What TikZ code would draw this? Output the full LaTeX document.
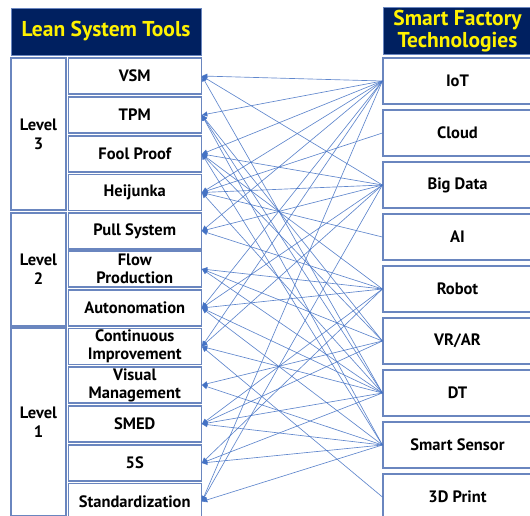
\documentclass[tikz,border=0pt]{standalone}
\usepackage{fontspec}
\setmainfont{PT Sans}
\usetikzlibrary{arrows.meta}
\definecolor{navy}{HTML}{002060}
\definecolor{boxline}{HTML}{6A86BF}
\definecolor{linkblue}{HTML}{4472C4}

\begin{document}
\begin{tikzpicture}[x=1pt,y=-1pt,
  head/.style={fill=navy,draw=boxline,text=yellow,font=\fontsize{21.5}{22.5}\selectfont\bfseries,align=center,inner sep=0pt},
  level/.style={draw=boxline,line width=1.2pt,minimum width=55pt,align=center,font=\fontsize{16.5}{19}\selectfont\bfseries,inner sep=0pt},
  tool/.style={draw=boxline,line width=1.2pt,minimum width=133pt,minimum height=36pt,align=center,font=\fontsize{16.5}{18}\selectfont\bfseries,inner sep=0pt},
  tech/.style={draw=boxline,line width=1.2pt,minimum width=149pt,minimum height=46pt,align=center,font=\fontsize{16.5}{18}\selectfont\bfseries,inner sep=0pt},
  link/.style={draw=linkblue,draw opacity=0.85,line width=0.65pt,-{Triangle[length=5.5pt,width=5pt]}}]
\useasboundingbox (0,0) rectangle (530,516);

\node[head,minimum width=190pt,minimum height=47pt] (lean) at (106,31.5) {Lean System Tools};
\node[head,minimum width=149pt,minimum height=47pt] (smart) at (457.5,31) {Smart Factory\\Technologies};

\node[level,minimum height=152pt] (lv3) at (38.5,134) {Level\\3};
\node[level,minimum height=113pt] (lv2) at (38.5,269.5) {Level\\2};
\node[level,minimum height=188pt] (lv1) at (38.5,422) {Level\\1};

\node[tool] (vsm) at (134.75,76) {VSM};
\node[tool] (tpm) at (134.75,115) {TPM};
\node[tool] (fool) at (134.75,154) {Fool Proof};
\node[tool] (heij) at (134.75,192.5) {Heijunka};
\node[tool] (pull) at (134.75,231) {Pull System};
\node[tool] (flow) at (134.75,269) {Flow\\Production};
\node[tool] (auto) at (134.75,308) {Autonomation};
\node[tool] (cont) at (134.75,346.5) {Continuous\\Improvement};
\node[tool] (visual) at (134.75,385) {Visual\\Management};
\node[tool] (smed) at (134.75,424) {SMED};
\node[tool] (fives) at (134.75,463) {5S};
\node[tool] (std) at (134.75,501.5) {Standardization};

\node[tech] (iot) at (457.5,81) {IoT};
\node[tech] (cloud) at (457.5,133) {Cloud};
\node[tech] (bigdata) at (457.5,185) {Big Data};
\node[tech] (ai) at (457.5,237) {AI};
\node[tech] (robot) at (457.5,289) {Robot};
\node[tech] (vrar) at (457.5,341) {VR/AR};
\node[tech] (dt) at (457.5,393) {DT};
\node[tech] (sensor) at (457.5,445) {Smart Sensor};
\node[tech] (print) at (457.5,497) {3D Print};

\draw[link] (iot.west) -- (vsm.east);
\draw[link] (bigdata.west) -- (vsm.east);
\draw[link] (dt.west) -- (vsm.east);
\draw[link] (iot.west) -- (tpm.east);
\draw[link] (vrar.west) -- (tpm.east);
\draw[link] (dt.west) -- (tpm.east);
\draw[link] (sensor.west) -- (tpm.east);
\draw[link] (iot.west) -- (fool.east);
\draw[link] (bigdata.west) -- (fool.east);
\draw[link] (robot.west) -- (fool.east);
\draw[link] (vrar.west) -- (fool.east);
\draw[link] (sensor.west) -- (fool.east);
\draw[link] (iot.west) -- (heij.east);
\draw[link] (cloud.west) -- (heij.east);
\draw[link] (bigdata.west) -- (heij.east);
\draw[link] (ai.west) -- (heij.east);
\draw[link] (dt.west) -- (heij.east);
\draw[link] (iot.west) -- (pull.east);
\draw[link] (bigdata.west) -- (pull.east);
\draw[link] (robot.west) -- (pull.east);
\draw[link] (robot.west) -- (flow.east);
\draw[link] (vrar.west) -- (flow.east);
\draw[link] (dt.west) -- (flow.east);
\draw[link] (iot.west) -- (auto.east);
\draw[link] (bigdata.west) -- (auto.east);
\draw[link] (robot.west) -- (auto.east);
\draw[link] (dt.west) -- (auto.east);
\draw[link] (sensor.west) -- (auto.east);
\draw[link] (iot.west) -- (cont.east);
\draw[link] (bigdata.west) -- (cont.east);
\draw[link] (dt.west) -- (cont.east);
\draw[link] (print.west) -- (cont.east);
\draw[link] (vrar.west) -- (visual.east);
\draw[link] (sensor.west) -- (visual.east);
\draw[link] (robot.west) -- (smed.east);
\draw[link] (vrar.west) -- (smed.east);
\draw[link] (dt.west) -- (smed.east);
\draw[link] (sensor.west) -- (smed.east);
\draw[link] (robot.west) -- (fives.east);
\draw[link] (dt.west) -- (fives.east);
\draw[link] (sensor.west) -- (fives.east);
\draw[link] (iot.west) -- (std.east);
\draw[link] (bigdata.west) -- (std.east);
\draw[link] (sensor.west) -- (std.east);
\end{tikzpicture}
\end{document}
